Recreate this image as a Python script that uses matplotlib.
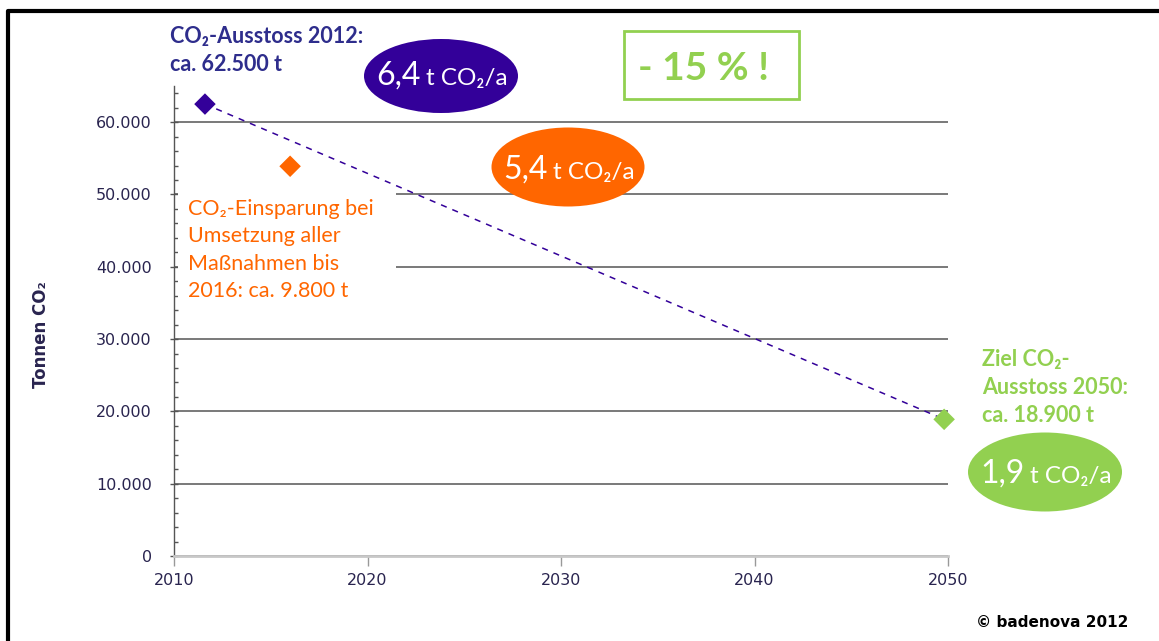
import matplotlib
matplotlib.use("Agg")
import matplotlib.pyplot as plt
from matplotlib.patches import Ellipse, Rectangle

# --- data -------------------------------------------------------------
years = [2011.6, 2016.0, 2049.8]
emissions = [62500, 53900, 18900]
point_colors = ["#330099", "#ff6600", "#92d050"]
trend_years = [2011.6, 2049.8]
trend_values = [62500, 18900]
x_ticks = [2010, 2020, 2030, 2040, 2050]
y_ticks = [0, 10000, 20000, 30000, 40000, 50000, 60000]
y_tick_labels = ["0", "10.000", "20.000", "30.000", "40.000", "50.000", "60.000"]

NAVY = "#330099"
NAVY_TXT = "#2e2d8c"
ORANGE = "#ff6600"
GREEN = "#92d050"
TICK_TXT = "#29244f"
FONT = ["Lato", "DejaVu Sans"]

W, H = 1159, 641
fig = plt.figure(figsize=(W / 100, H / 100), dpi=100)
fig.patch.set_facecolor("white")

# main chart area
ax = fig.add_axes([174 / W, (H - 556) / H, (948 - 174) / W, (556 - 86) / H])
ax.set_xlim(2010, 2050)
ax.set_ylim(0, 65000)
for s in ("top", "right"):
    ax.spines[s].set_visible(False)
ax.spines["left"].set_color("#555555")
ax.spines["left"].set_linewidth(1.0)
ax.spines["bottom"].set_color("#c8c8c8")
ax.spines["bottom"].set_linewidth(2.0)

ax.set_yticks(y_ticks)
ax.set_yticklabels(y_tick_labels)
ax.set_yticks(range(0, 65000, 2000), minor=True)
ax.tick_params(axis="y", which="major", direction="inout", length=6, width=1,
               color="#555555", labelsize=11.5, labelcolor=TICK_TXT, pad=13)
ax.tick_params(axis="y", which="minor", direction="in", length=3, width=1,
               color="#555555")
ax.set_xticks(x_ticks)
ax.tick_params(axis="x", which="major", direction="out", length=7, width=1,
               color="#999999", labelsize=11.5, labelcolor=TICK_TXT, pad=5)
for lab in ax.get_xticklabels() + ax.get_yticklabels():
    lab.set_family("DejaVu Sans")

ax.grid(axis="y", which="major", color="#555555", linewidth=1.1)
ax.set_axisbelow(True)

# dashed trend line and markers
ax.plot(trend_years, trend_values, linestyle=(0, (4, 4)), color=NAVY,
        linewidth=1.1, zorder=3)
ax.scatter(years, emissions, marker="D", s=120, c=point_colors,
           edgecolors="none", zorder=4, clip_on=False)

ax.set_ylabel("Tonnen CO\u2082", fontsize=12, color=TICK_TXT,
              fontweight="bold", family="DejaVu Sans")
ax.yaxis.set_label_coords(-0.16, 0.47)

# overlay in pixel coordinates for annotations
ov = fig.add_axes([0, 0, 1, 1], facecolor="none")
ov.set_xlim(0, W)
ov.set_ylim(H, 0)
ov.axis("off")

# frame
ov.plot([8, 8, W + 5], [H + 5, 11, 11], color="black", linewidth=3,
        solid_capstyle="projecting", clip_on=False)

# 2012 annotation
ov.text(170, 43, "CO\u2082-Ausstoss 2012:", family=FONT, fontweight="bold",
        fontsize=15.5, color=NAVY_TXT, va="baseline")
ov.text(170, 71, "ca. 62.500 t", family=FONT, fontweight="bold",
        fontsize=15.5, color=NAVY_TXT, va="baseline")

# savings annotation on white background
ov.add_patch(Rectangle((178, 192), 218, 114, facecolor="white",
                       edgecolor="none", zorder=2))
for i, line in enumerate(["CO\u2082-Einsparung bei", "Umsetzung aller",
                          "Maßnahmen bis", "2016: ca. 9.800 t"]):
    ov.text(188, 215 + i * 27.3, line, family=FONT, fontsize=15.5,
            color=ORANGE, va="baseline", zorder=3)

# 2050 annotation
for i, line in enumerate(["Ziel CO\u2082-", "Ausstoss 2050:", "ca. 18.900 t"]):
    ov.text(982, 366 + i * 28, line, family=FONT, fontweight="bold",
            fontsize=15.5, color=GREEN, va="baseline")

# per-capita bubbles
bubbles = [
    (441, 76, 154, 74, NAVY, "6,4", 421, 426, 85),
    (568, 167, 153, 79, ORANGE, "5,4", 548, 553, 179),
    (1045, 472, 154, 79, GREEN, "1,9", 1025, 1030, 483),
]
for cx, cy, w, h, col, num, xr, xl, yb in bubbles:
    ov.add_patch(Ellipse((cx, cy), w, h, facecolor=col, edgecolor="none",
                         zorder=4))
    ov.text(xr, yb, num, family=FONT, fontsize=23, color="white",
            ha="right", va="baseline", zorder=5)
    ov.text(xl, yb, "t CO\u2082/a", family=FONT, fontsize=17.5, color="white",
            ha="left", va="baseline", zorder=5)

# reduction box
ov.add_patch(Rectangle((624, 31), 175, 68, facecolor="none",
                       edgecolor=GREEN, linewidth=2))
ov.text(703, 80, "- 15 % !", family=FONT, fontweight="bold", fontsize=28,
        color=GREEN, ha="center", va="baseline")

# copyright
ov.text(1128, 627, "© badenova 2012", family="DejaVu Sans",
        fontweight="bold", fontsize=11, color="black", ha="right",
        va="baseline")

fig.savefig("out.png", dpi=100)
